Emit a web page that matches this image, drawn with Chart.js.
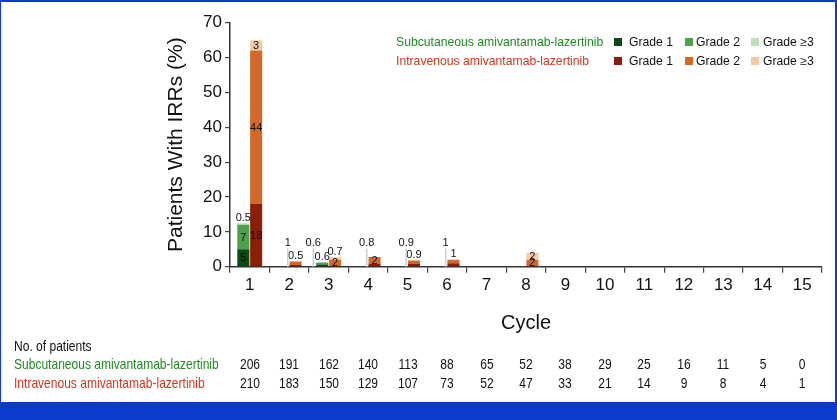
<!DOCTYPE html>
<html><head><meta charset="utf-8">
<script src="https://cdn.jsdelivr.net/npm/chart.js@4"></script>
<style>
html,body{margin:0;padding:0;}
body{width:837px;height:420px;background:#0c3bcb;position:relative;overflow:hidden;font-family:"Liberation Sans",Arial,sans-serif;}
#panel{position:absolute;left:1px;top:2px;width:834px;height:400px;background:#fff;}
#c{position:absolute;left:0;top:0;}
.lg{position:absolute;font-size:12.2px;line-height:14px;white-space:nowrap;color:#111;}
.sw{position:absolute;width:8px;height:8px;}
.tb{position:absolute;font-family:"Liberation Sans",Arial,sans-serif;font-size:14.5px;line-height:16px;white-space:nowrap;color:#111;transform:scaleX(0.83);transform-origin:0 50%;}
.num{transform:translateX(-50%) scaleX(0.83);transform-origin:50% 50%;}
</style></head>
<body>
<div id="panel"></div>
<canvas id="c" width="837" height="420"></canvas>
<div id="overlay"></div>
<script>
// ---- data ----
const cycles = ['1','2','3','4','5','6','7','8','9','10','11','12','13','14','15'];
const scGrade1 = [5, 0, 0.6, 0, 0, 0, 0, 0, 0, 0, 0, 0, 0, 0, 0];
const scGrade2 = [7, 0, 0.6, 0, 0, 0, 0, 0, 0, 0, 0, 0, 0, 0, 0];
const scGrade3 = [0.5, 0, 0, 0, 0, 0, 0, 0, 0, 0, 0, 0, 0, 0, 0];
const ivGrade1 = [18, 0.5, 0, 0.8, 0.9, 1, 0, 0, 0, 0, 0, 0, 0, 0, 0];
const ivGrade2 = [44, 1, 2, 2, 0.9, 1, 0, 2, 0, 0, 0, 0, 0, 0, 0];
const ivGrade3 = [3, 0, 0.7, 0, 0, 0, 0, 2, 0, 0, 0, 0, 0, 0, 0];
const scGrade1Labels = ['5', null, null, null, null, null, null, null, null, null, null, null, null, null, null];
const scGrade2Labels = ['7', null, '0.6', null, null, null, null, null, null, null, null, null, null, null, null];
const scGrade3Labels = ['0.5', null, null, null, null, null, null, null, null, null, null, null, null, null, null];
const scLeaderLabels = [null, '1', '0.6', '0.8', '0.9', '1', null, null, null, null, null, null, null, null, null];
const ivGrade1Labels = ['18', '0.5', null, null, '0.9', '1', null, null, null, null, null, null, null, null, null];
const ivGrade2Labels = ['44', null, '2', '2', null, null, null, '2', null, null, null, null, null, null, null];
const ivGrade3Labels = ['3', null, '0.7', null, null, null, null, '2', null, null, null, null, null, null, null];
const scPatients = [206, 191, 162, 140, 113, 88, 65, 52, 38, 29, 25, 16, 11, 5, 0];
const ivPatients = [210, 183, 150, 129, 107, 73, 52, 47, 33, 21, 14, 9, 8, 4, 1];
const scName = 'Subcutaneous amivantamab-lazertinib';
const ivName = 'Intravenous amivantamab-lazertinib';
const gradeNames = ['Grade 1', 'Grade 2', 'Grade \u22653'];

// ---- styles ----
const scColors = ['#0b4a14', '#4aa24c', '#bce0b7'];
const ivColors = ['#8a1f08', '#d2692b', '#f6caa6'];
const scText = '#1f8a22';
const ivText = '#d2361c';
const FONT = '"Liberation Sans", Arial, sans-serif';

function ds(label, data, labels, color, stack) {
  return { label, data, valueLabels: labels, backgroundColor: color, stack,
    borderWidth: 0, barPercentage: 0.94, categoryPercentage: 0.65 };
}
const datasets = [
  ds('SC ' + gradeNames[0], scGrade1, scGrade1Labels, scColors[0], 'sc'),
  ds('SC ' + gradeNames[1], scGrade2, scGrade2Labels, scColors[1], 'sc'),
  ds('SC ' + gradeNames[2], scGrade3, scGrade3Labels, scColors[2], 'sc'),
  ds('IV ' + gradeNames[0], ivGrade1, ivGrade1Labels, ivColors[0], 'iv'),
  ds('IV ' + gradeNames[1], ivGrade2, ivGrade2Labels, ivColors[1], 'iv'),
  ds('IV ' + gradeNames[2], ivGrade3, ivGrade3Labels, ivColors[2], 'iv')
];

function stackTotal(chart, stack, i) {
  return chart.data.datasets.filter(d => d.stack === stack).reduce((s, d) => s + d.data[i], 0);
}

const labelPlugin = {
  id: 'barLabels',
  afterDatasetsDraw(chart) {
    const ctx = chart.ctx, ys = chart.scales.y;
    ctx.save();
    ctx.font = '11px ' + FONT;
    ctx.fillStyle = '#111';
    ctx.textAlign = 'center';
    ctx.textBaseline = 'middle';
    chart.data.datasets.forEach((d, di) => {
      const meta = chart.getDatasetMeta(di);
      d.valueLabels.forEach((lab, i) => {
        if (!lab) return;
        const el = meta.data[i];
        if (d.data[i] >= 1.5) {
          ctx.fillText(lab, el.x, (el.y + el.base) / 2 + 0.5);
        } else {
          const top = ys.getPixelForValue(stackTotal(chart, d.stack, i));
          ctx.fillText(lab, el.x, top - 5.5);
        }
      });
    });
    // leader lines for SC small values
    const m0 = chart.getDatasetMeta(0);
    scLeaderLabels.forEach((lab, i) => {
      if (!lab) return;
      const el = m0.data[i];
      const hasBar = stackTotal(chart, 'sc', i) > 0;
      const x = hasBar ? el.x - el.width / 2 - 3 : el.x + el.width / 2 - 1;
      ctx.strokeStyle = '#c3d3d6';
      ctx.lineWidth = 1.5;
      ctx.beginPath();
      ctx.moveTo(x, ys.getPixelForValue(0));
      ctx.lineTo(x, ys.getPixelForValue(5.2));
      ctx.stroke();
      ctx.fillStyle = '#111';
      ctx.fillText(lab, x, ys.getPixelForValue(6.8));
    });
    ctx.restore();
  }
};

const chart = new Chart(document.getElementById('c'), {
  type: 'bar',
  data: { labels: cycles, datasets },
  plugins: [labelPlugin],
  options: {
    responsive: false,
    animation: false,
    layout: { padding: { left: 164, right: 15, top: 22.7, bottom: 83.3 } },
    plugins: { legend: { display: false }, tooltip: { enabled: false } },
    scales: {
      x: {
        stacked: true,
        grid: { display: true, drawOnChartArea: false, drawTicks: true, tickLength: 6, offset: true, color: '#444', lineWidth: 1.2 },
        border: { display: true, color: '#333', width: 1.5 },
        ticks: { font: { size: 17, family: FONT }, color: '#111', padding: 2, maxRotation: 0, autoSkip: false },
        title: { display: true, text: 'Cycle', font: { size: 20, family: FONT }, color: '#111', padding: { top: 0, bottom: 1.7 } },
        afterFit: s => { s.height = 70; }
      },
      y: {
        stacked: true, min: 0, max: 70,
        grid: { display: true, drawOnChartArea: false, drawTicks: true, tickLength: 5, color: '#444', lineWidth: 1.2 },
        border: { display: true, color: '#333', width: 1.5 },
        ticks: { stepSize: 10, font: { size: 17, family: FONT }, color: '#111', padding: 3 },
        title: { display: true, text: 'Patients With IRRs (%)', font: { size: 21, family: FONT }, color: '#111', padding: { top: 0, bottom: 0 } },
        afterFit: s => { s.width = 66; }
      }
    }
  }
});

// ---- legend and patient table (DOM text) ----
const ov = document.getElementById('overlay');
function add(cls, text, left, top, color, extra) {
  const e = document.createElement('div');
  e.className = cls;
  if (text !== null) e.textContent = text;
  e.style.left = left + 'px';
  e.style.top = top + 'px';
  if (color) e.style.color = color;
  if (extra) Object.assign(e.style, extra);
  ov.appendChild(e);
  return e;
}
const lgRows = [[scName, scText, scColors, 42], [ivName, ivText, ivColors, 61]];
const swX = [614, 685, 751], gtX = [629, 696, 763];
lgRows.forEach(([name, tc, cols, cy]) => {
  add('lg', name, 396, cy - 7, tc);
  cols.forEach((c, k) => {
    add('sw', null, swX[k], cy - 4, null, { background: c });
    add('lg', gradeNames[k], gtX[k], cy - 7, '#111');
  });
});
add('tb', 'No. of patients', 14, 346 - 8, '#111');
add('tb', scName, 14, 364 - 8, scText);
add('tb', ivName, 14, 383 - 8, ivText);
const xs = chart.scales.x;
cycles.forEach((c, i) => {
  const px = xs.getPixelForValue(i);
  add('tb num', String(scPatients[i]), px, 364 - 8, '#111');
  add('tb num', String(ivPatients[i]), px, 383 - 8, '#111');
});
</script>
</body></html>
